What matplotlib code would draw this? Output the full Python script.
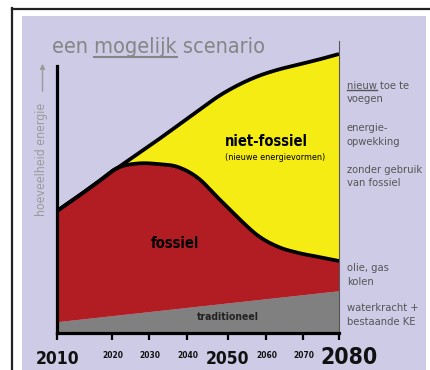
import os
import numpy as np
import matplotlib
matplotlib.use("Agg")
import matplotlib.pyplot as plt
from matplotlib import font_manager as fm
from matplotlib.font_manager import FontProperties
from matplotlib.lines import Line2D
from matplotlib.patches import Rectangle

# ---------------- data (energy amounts, arbitrary units) ----------------
years = [2010, 2015, 2020, 2025, 2030, 2035, 2040, 2045, 2050,
         2055, 2060, 2065, 2070, 2075, 2080]
fossil_top = [122, 136, 150.5, 165, 169.5, 169, 166, 155, 135, 115, 97, 86, 80, 76, 72]
total_top = [122, 136, 150.5, 165, 179, 193, 207.5, 222, 236.5, 248, 257, 263.5, 268.5, 273.5, 279]
trad_years = [2010, 2080]
traditional = [11.3, 42.3]

tick_years = [2010, 2020, 2030, 2040, 2050, 2060, 2070, 2080]
tick_labels = ["2010", "2020", "2030", "2040", "2050", "2060", "2070", "2080"]

title_text = ["een ", "mogelijk", " scenario"]
ylabel_text = "hoeveelheid energie"
side_labels = [("nieuw toe te\nvoegen", "nieuw"),
               ("energie-\nopwekking", None),
               ("zonder gebruik\nvan fossiel", None),
               ("olie, gas\nkolen", None),
               ("waterkracht +\nbestaande KE", None)]
area_labels = {"non_fossil": "niet-fossiel", "non_fossil_sub": "(nieuwe energievormen)",
               "fossil": "fossiel", "traditional": "traditioneel"}

# ---------------- fonts ----------------
_names = {f.name for f in fm.fontManager.ttflist}
_files = {os.path.basename(f.fname): f.fname for f in fm.fontManager.ttflist}


def fp(size, bold=False):
    if "Liberation Sans Narrow" in _names:
        return FontProperties(family="Liberation Sans Narrow",
                              weight="bold" if bold else "normal", size=size)
    key = "DejaVuSansCondensed-Bold.ttf" if bold else "DejaVuSansCondensed.ttf"
    if key in _files:
        return FontProperties(fname=_files[key], size=size)
    return FontProperties(family="Liberation Sans",
                          weight="bold" if bold else "normal", size=size)


# ---------------- smooth drawing helper (Catmull-Rom cubic) ----------------
def smooth(x, y, xn):
    x = np.asarray(x, float); y = np.asarray(y, float)
    h = np.diff(x)
    m = np.empty_like(y)
    m[1:-1] = (y[2:] - y[:-2]) / (x[2:] - x[:-2])
    m[0] = (y[1] - y[0]) / h[0]
    m[-1] = (y[-1] - y[-2]) / h[-1]
    idx = np.clip(np.searchsorted(x, xn) - 1, 0, len(x) - 2)
    t = (xn - x[idx]) / h[idx]
    h00 = 2 * t**3 - 3 * t**2 + 1; h10 = t**3 - 2 * t**2 + t
    h01 = -2 * t**3 + 3 * t**2; h11 = t**3 - t**2
    return (h00 * y[idx] + h10 * h[idx] * m[idx] + h01 * y[idx + 1]
            + h11 * h[idx] * m[idx + 1])


W, H = 431, 370
fig = plt.figure(figsize=(W / 100, H / 100), dpi=100)
fig.patch.set_facecolor("white")


def fx(x):
    return x / W


def fy(y):
    return 1 - y / H


LAV = "#CDCBE6"
fig.patches.append(Rectangle((fx(22), 0), fx(426) - fx(22), fy(16), transform=fig.transFigure,
                             facecolor=LAV, edgecolor="none", zorder=-5))
fig.lines.append(Line2D([fx(12), 1], [fy(8.5), fy(8.5)], transform=fig.transFigure,
                        color="#222222", lw=1.6, zorder=-4))
fig.lines.append(Line2D([fx(12.5), fx(12.5)], [fy(8), 0], transform=fig.transFigure,
                        color="#222222", lw=1.6, zorder=-4))

AX_L, AX_R, AX_B, AX_T = 57, 339, 333, 41
ax = fig.add_axes([fx(AX_L), 1 - AX_B / H, (AX_R - AX_L) / W, (AX_B - AX_T) / H])
ax.set_zorder(1)
ax.set_facecolor("none")
ax.set_xlim(2010, 2080)
ax.set_ylim(0, 292)

xs = np.linspace(2010, 2080, 500)
s_trad = np.interp(xs, trad_years, traditional)
s_fos = smooth(years, fossil_top, xs)
s_tot = np.maximum(smooth(years, total_top, xs), s_fos)

ax.fill_between(xs, 0, s_trad, color="#808080", lw=0, zorder=1)
ax.fill_between(xs, s_trad, s_fos, color="#B21D24", lw=0, zorder=1)
ax.fill_between(xs, s_fos, s_tot, color="#F5EC14", lw=0, zorder=1)
ax.plot(xs, s_fos, color="black", lw=2.7, zorder=3, solid_capstyle="butt")
ax.plot(xs, s_tot, color="black", lw=2.7, zorder=3, solid_capstyle="butt")

ax.spines["top"].set_visible(False)
ax.spines["left"].set_linewidth(2.3)
ax.spines["left"].set_bounds(0, 267)
ax.spines["bottom"].set_linewidth(2.3)
ax.spines["right"].set_linewidth(0.8)
ax.spines["right"].set_color("#555555")
for s in ax.spines.values():
    s.set_zorder(4)
ax.set_yticks([])

# tick marks placed where the reference draws them (pixel layout)
tick_px = [57, 112, 149, 187, 228, 266, 303, 339]
ax.set_xticks([2010 + (p - AX_L) / (AX_R - AX_L) * 70 for p in tick_px])
ax.set_xticklabels([])
ax.tick_params(axis="x", direction="out", length=5, width=1.6, color="black")

# tick labels (big / small)
big = {"2010": (12.5, 58), "2050": (12.5, 228), "2080": (16.5, 349)}
for lab, p in zip(tick_labels, tick_px):
    if lab in big:
        size, px = big[lab]
        fig.text(fx(px), fy(364), lab, ha="center", va="baseline",
                 fontproperties=fp(size, True), color="#111111")
    else:
        fig.text(fx(p + 1), fy(355), lab, ha="center", va="center",
                 fontproperties=fp(6, True), color="#111111")

# title with underlined word
TCOL = "#858585"
tfp = fp(15.5)
full = "".join(title_text)
t = fig.text(fx(52), fy(53), full, ha="left", va="baseline", fontproperties=tfp, color=TCOL)
fig.canvas.draw()
r = fig.canvas.get_renderer()


def width_of(s, prop):
    tmp = fig.text(0, 0, s, fontproperties=prop)
    w = tmp.get_window_extent(r).width
    tmp.remove()
    return w


x0 = t.get_window_extent(r).x0
w12 = width_of(title_text[0] + title_text[1], tfp)
w2 = width_of(title_text[1], tfp)
fig.lines.append(Line2D([(x0 + w12 - w2) / W, (x0 + w12) / W], [fy(57), fy(57)],
                        transform=fig.transFigure, color=TCOL, lw=1.5))

# y label with arrow
fig.text(fx(42), fy(159), ylabel_text, rotation=90, ha="center", va="center",
         fontproperties=fp(8.8), color="#9A9A9A")
ax.annotate("", xy=(fx(42.5), fy(61)), xytext=(fx(42.5), fy(94)),
            xycoords="figure fraction", textcoords="figure fraction",
            arrowprops=dict(arrowstyle="-|>", color="#9A9A9A", lw=1.0, mutation_scale=7))

# right side labels
RCOL = "#555555"
rfp = fp(8)
side_y = [92.5, 135, 176.5, 275, 315]
for (txt, under), py in zip(side_labels, side_y):
    tt = fig.text(fx(347), fy(py), txt, ha="left", va="center", fontproperties=rfp,
                  color=RCOL, linespacing=1.45)
    if under:
        wu = width_of(under, rfp)
        fig.canvas.draw()
        ext = tt.get_window_extent(r)
        ybase = fy(90)
        fig.lines.append(Line2D([ext.x0 / W, (ext.x0 + wu) / W], [ybase, ybase],
                                transform=fig.transFigure, color=RCOL, lw=1.0))

# area labels
ax.text(2051.7, 192, area_labels["non_fossil"], ha="left", va="center",
        fontproperties=fp(10.5, True), color="black", zorder=5)
ax.text(2051.7, 175, area_labels["non_fossil_sub"], ha="left", va="center",
        fontproperties=fp(6.5), color="black", zorder=5)
ax.text(2039.3, 90, area_labels["fossil"], ha="center", va="center",
        fontproperties=fp(10.5, True), color="black", zorder=5)
ax.text(2052.4, 16, area_labels["traditional"], ha="center", va="center",
        fontproperties=fp(7.5, True), color="#222222", zorder=5)

fig.savefig("out.png", dpi=100, facecolor="white")
